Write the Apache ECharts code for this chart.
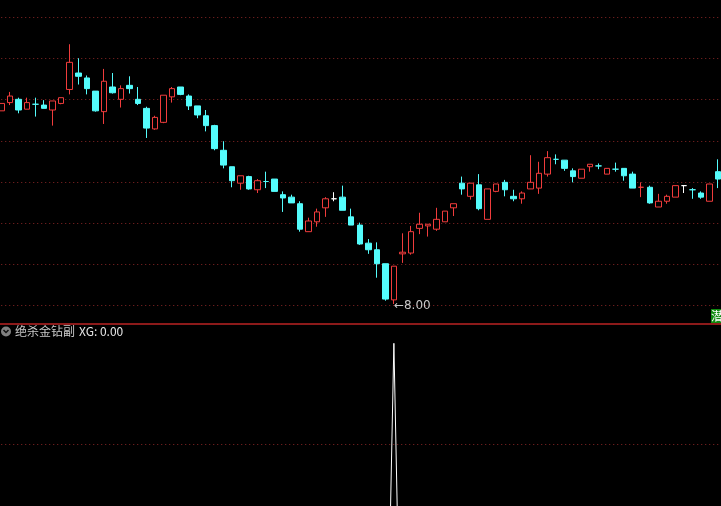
<!DOCTYPE html>
<html><head><meta charset="utf-8">
<script src="https://cdn.jsdelivr.net/npm/echarts@6/dist/echarts.min.js"></script>
<style>html,body{margin:0;padding:0;background:#000;}#c{width:721px;height:506px;}</style>
</head><body><div id="c"></div>
<script>
const opens  = [10.35,10.45,10.49,10.37,10.43,10.42,10.36,10.44,10.61,10.81,10.75,10.59,10.34,10.64,10.49,10.66,10.49,10.38,10.13,10.21,10.52,10.64,10.53,10.41,10.29,10.17,9.87,9.67,9.47,9.55,9.39,9.49,9.52,9.33,9.30,9.22,8.88,9.00,9.17,9.28,9.30,9.06,8.96,8.74,8.66,8.49,8.05,8.61,8.62,8.92,8.95,8.91,9.00,9.17,9.47,9.31,9.45,9.03,9.37,9.48,9.31,9.28,9.40,9.41,9.58,9.76,9.75,9.62,9.53,9.67,9.68,9.58,9.64,9.65,9.58,9.42,9.42,9.18,9.25,9.30,9.44,9.39,9.35,9.25,9.61];
const closes = [10.44,10.53,10.36,10.45,10.43,10.38,10.47,10.51,10.94,10.77,10.62,10.35,10.71,10.57,10.62,10.62,10.44,10.14,10.27,10.54,10.62,10.55,10.41,10.30,10.17,9.89,9.69,9.50,9.56,9.40,9.50,9.49,9.37,9.29,9.23,8.91,9.01,9.12,9.28,9.28,9.14,8.96,8.73,8.66,8.49,8.06,8.46,8.63,8.88,8.97,8.97,9.03,9.13,9.22,9.40,9.47,9.16,9.40,9.46,9.39,9.28,9.35,9.48,9.59,9.78,9.76,9.65,9.55,9.64,9.70,9.68,9.65,9.64,9.56,9.41,9.42,9.23,9.25,9.31,9.44,9.44,9.39,9.30,9.46,9.52];
const lows   = [10.35,10.42,10.32,10.37,10.28,10.38,10.17,10.43,10.55,10.67,10.55,10.34,10.19,10.56,10.39,10.56,10.42,10.02,10.12,10.20,10.45,10.54,10.36,10.26,10.10,9.87,9.65,9.42,9.39,9.39,9.35,9.41,9.37,9.12,9.23,8.88,8.88,8.94,9.06,9.25,9.14,8.96,8.72,8.61,8.32,8.04,8.00,8.50,8.60,8.85,8.82,8.89,9.00,9.07,9.33,9.27,9.14,9.03,9.36,9.31,9.25,9.22,9.40,9.34,9.55,9.70,9.62,9.48,9.53,9.61,9.64,9.58,9.61,9.50,9.41,9.30,9.22,9.18,9.22,9.30,9.35,9.28,9.28,9.25,9.41];
const highs  = [10.44,10.58,10.51,10.51,10.51,10.48,10.47,10.51,11.16,10.99,10.78,10.59,10.86,10.81,10.66,10.77,10.64,10.40,10.29,10.54,10.64,10.64,10.55,10.41,10.36,10.18,9.98,9.67,9.56,9.56,9.52,9.61,9.52,9.37,9.33,9.25,9.05,9.16,9.30,9.36,9.44,9.16,8.99,8.79,8.75,8.49,8.46,8.86,8.95,9.11,8.97,9.17,9.13,9.22,9.55,9.47,9.58,9.40,9.46,9.51,9.39,9.37,9.81,9.73,9.86,9.82,9.75,9.65,9.64,9.70,9.71,9.65,9.72,9.65,9.61,9.48,9.44,9.34,9.33,9.44,9.44,9.41,9.37,9.46,9.76];
const xg     = [0,0,0,0,0,0,0,0,0,0,0,0,0,0,0,0,0,0,0,0,0,0,0,0,0,0,0,0,0,0,0,0,0,0,0,0,0,0,0,0,0,0,0,0,0,0,1,0,0,0,0,0,0,0,0,0,0,0,0,0,0,0,0,0,0,0,0,0,0,0,0,0,0,0,0,0,0,0,0,0,0,0,0,0,0];
const indicatorName = '绝杀金钻副';
const xgText = 'XG: 0.00';
const cornerTag = '潜';

const cats = opens.map((_, i) => String(i + 1));
const candleData = opens.map((o, i) => {
  const item = { value: [o, closes[i], lows[i], highs[i]] };
  if (o === closes[i] && i > 0 && closes[i - 1] === closes[i]) {
    item.itemStyle = { borderColor: '#ffffff', borderColor0: '#ffffff', color: '#ffffff', color0: '#ffffff' };
  }
  return item;
});

const RED = '#f03c3c', CYAN = '#54fcfc', GRIDC = '#8a2626';
const L = -2.77, R = -1.28;
const chart = echarts.init(document.getElementById('c'), null, { renderer: 'canvas' });
const dotted = { show: true, lineStyle: { color: GRIDC, type: [1, 3], width: 1 } };
chart.setOption({
  backgroundColor: '#000',
  animation: false,
  grid: [
    { left: L, right: R, top: 17.5, bottom: 182.3, outerBoundsMode: 'none' },
    { left: L, right: R, top: 343.3, bottom: 0, outerBoundsMode: 'none' },
    { left: L, right: R, top: 444, height: 100, outerBoundsMode: 'none' }
  ],
  xAxis: [
    { type: 'category', gridIndex: 0, data: cats, boundaryGap: true, position: 'bottom',
      axisLine: { show: true, onZero: false, lineStyle: { color: '#8c1a1a', width: 2 } },
      axisTick: { show: false }, axisLabel: { show: false }, splitLine: { show: false } },
    { type: 'category', gridIndex: 1, data: cats, boundaryGap: true, show: false },
    { type: 'category', gridIndex: 2, data: cats, boundaryGap: true, show: false }
  ],
  yAxis: [
    { type: 'value', gridIndex: 0, min: 7.7603, max: 11.4854, show: false, scale: true },
    { type: 'value', gridIndex: 0, inverse: true, min: 0, max: 7.45, interval: 1,
      axisLine: { show: false }, axisTick: { show: false }, axisLabel: { show: false }, splitLine: dotted },
    { type: 'value', gridIndex: 1, min: 0.614, max: 1, show: false },
    { type: 'value', gridIndex: 2, min: 0, max: 1, interval: 1,
      axisLine: { show: false }, axisTick: { show: false }, axisLabel: { show: false }, splitLine: dotted }
  ],
  series: [
    { type: 'candlestick', xAxisIndex: 0, yAxisIndex: 0, data: candleData, barWidth: 6,
      itemStyle: { color: '#000000', color0: CYAN, borderColor: RED, borderColor0: CYAN, borderWidth: 1 },
      markPoint: {
        symbol: 'circle', symbolSize: 0,
        data: [{ type: 'min', valueDim: 'lowest' }],
        label: { show: true, position: 'right', distance: 0, offset: [0, 2],
          formatter: p => '←' + Number(p.value).toFixed(2),
          color: '#c8c8c8', fontSize: 12, fontFamily: 'DejaVu Sans' }
      }
    },
    { type: 'line', xAxisIndex: 1, yAxisIndex: 2, data: xg, symbol: 'none', clip: true,
      lineStyle: { color: '#ffffff', width: 1 } }
  ],
  graphic: [
    { type: 'circle', shape: { cx: 6, cy: 331.5, r: 5 }, style: { fill: '#808080' } },
    { type: 'polyline', shape: { points: [[3.5, 330], [6, 332.5], [8.5, 330]] }, style: { stroke: '#111', lineWidth: 1.5, fill: null } },
    { type: 'text', x: 15, y: 331.5, style: { text: indicatorName, fill: '#c8c8c8', font: '12px "Noto Sans CJK SC"', verticalAlign: 'middle' } },
    { type: 'text', x: 79, y: 331.5, style: { text: xgText, fill: '#e6e6e6', font: '12px "Noto Sans CJK SC"', verticalAlign: 'middle' } },
    { type: 'rect', shape: { x: 711, y: 309, width: 10, height: 14 }, style: { fill: '#108a10' } },
    { type: 'text', x: 711, y: 316, style: { text: cornerTag, fill: '#ffffff', font: '12px "Noto Sans CJK SC"', verticalAlign: 'middle' } }
  ]
});
</script>
</body></html>
